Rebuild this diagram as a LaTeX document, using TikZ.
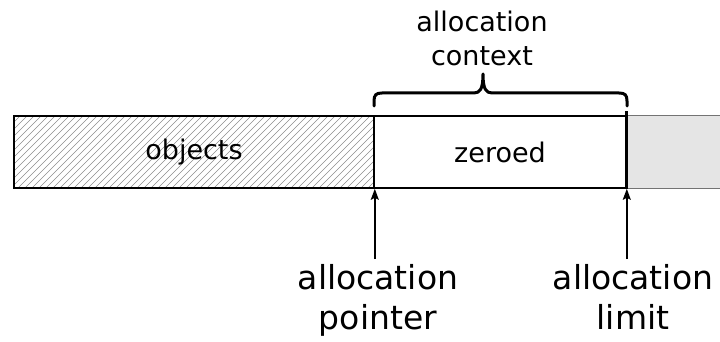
\documentclass[tikz,border=0pt]{standalone}
\usepackage{fontspec}
\setmainfont{DejaVu Sans}
\usetikzlibrary{arrows.meta}
\tikzset{
  box/.style={draw, line width=1.6pt, minimum height=72pt, inner sep=0pt, font=\fontsize{27}{34}\selectfont},
  lbl/.style={align=center, inner sep=0pt, anchor=north, font=\fontsize{33}{40}\selectfont},
  ptr/.style={-{Stealth[length=11pt,width=8pt,inset=2pt]}, line width=1.6pt},
}
\begin{document}
\begin{tikzpicture}[x=1pt,y=-1pt]
\useasboundingbox (0,0) rectangle (720,342);
% free region
\fill[black!10] (627,116) rectangle (722,188);
\draw[black!55, line width=1pt] (627,116) -- (722,116) (627,188) -- (722,188);
% hatch
\begin{scope}
  \clip (14,116) rectangle (374,188);
  \foreach \i in {-80,-73,...,380} \draw[black!45, line width=0.6pt] (\i,188) -- (\i+72,116);
\end{scope}
\node[box, minimum width=360pt] (obj) at (194,152) {objects};
\node[box, minimum width=252pt] (zer) at (500,152) {zeroed};
\draw[line width=3pt] (zer.north east) ++(0,-4) coordinate (limtop) -- (zer.south east);
% brace
\draw[line width=3pt, line cap=round, line join=round]
  (374,106) -- (374,101) .. controls (374,95) and (376,93) .. (382,93) -- (474,93)
  .. controls (480,93) and (483,89) .. (483,74)
  .. controls (483,89) and (486,93) .. (492,93) -- (619,93)
  .. controls (625,93) and (627,95) .. (627,101) -- (627,106);
\node[align=center, inner sep=0pt, anchor=north, font=\fontsize{27}{34}\selectfont] (ctx) at (482,11) {allocation\\context};
% labels
\node[lbl] (pl) at (378,264) {allocation\\pointer};
\node[lbl] (ll) at (633,264) {allocation\\limit};
\draw[ptr] (pl.north -| obj.south east) ++(0,-5) -- (obj.south east);
\draw[ptr] (ll.north -| zer.south east) ++(0,-5) -- (zer.south east);
\end{tikzpicture}
\end{document}
